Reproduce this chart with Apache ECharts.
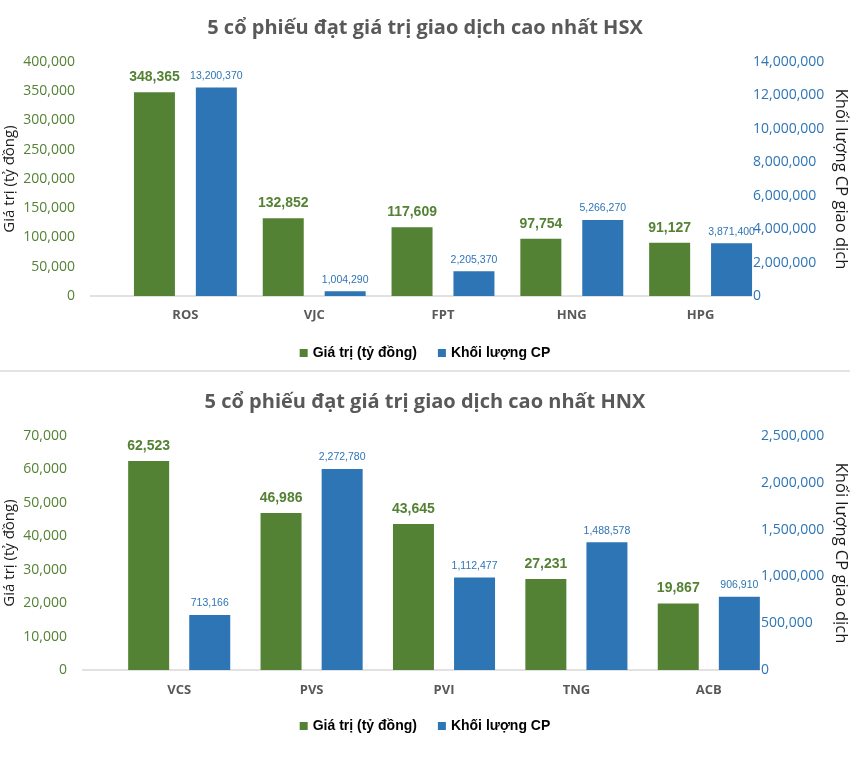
<!DOCTYPE html>
<html>
<head>
<meta charset="utf-8">
<script src="https://cdn.jsdelivr.net/npm/echarts@6/dist/echarts.min.js"></script>
<style>
html,body{margin:0;padding:0;background:#fff;}
#chart{width:850px;height:772px;}
</style>
</head>
<body>
<div id="chart"></div>
<script>
// ---- Data ----
const hsxCategories = ['ROS', 'VJC', 'FPT', 'HNG', 'HPG'];
const hsxValue = [348365, 132852, 117609, 97754, 91127];
const hsxVolume = [13200370, 1004290, 2205370, 5266270, 3871400];

const hnxCategories = ['VCS', 'PVS', 'PVI', 'TNG', 'ACB'];
const hnxValue = [62523, 46986, 43645, 27231, 19867];
const hnxVolume = [713166, 2272780, 1112477, 1488578, 906910];

// right-axis tick labels as printed in the picture
const hsxVolumeTicks = [0, 2000000, 4000000, 6000000, 8000000, 10000000, 12000000, 14000000];
const hnxVolumeTicks = [0, 500000, 1000000, 1500000, 2000000, 2500000];
// the blue bars sit lower than the printed right-axis ticks by this amount
const hsxVolumeShift = 720000;
const hnxVolumeShift = 125000;

const titleHSX = '5 cổ phiếu đạt giá trị giao dịch cao nhất HSX';
const titleHNX = '5 cổ phiếu đạt giá trị giao dịch cao nhất HNX';
const nameValue = 'Giá trị (tỷ đồng)';
const nameVolume = 'Khối lượng CP';
const leftAxisName = 'Giá trị (tỷ đồng)';
const rightAxisName = 'Khối lượng CP giao dịch';

// ---- Style ----
const GREEN = '#548235';
const BLUE = '#2E75B6';
const GRAY = '#595959';
const fmt = v => Math.round(v).toLocaleString('en-US');
const AXFONT = "'Open Sans', sans-serif";
const LFONT = "'Liberation Sans', Arial, sans-serif";

// layout
const P1 = {top: 62, height: 234, left: 121, width: 644, axisL: 90, axisR: 752};
const P2 = {top: 436, height: 234, left: 113, width: 662, axisL: 82, axisR: 760};

function leftAxis(gridIndex, max, interval, P, nameGap) {
  return {
    type: 'value', gridIndex, min: 0, max, interval, position: 'left',
    offset: P.left - P.axisL,
    axisLine: {show: false}, axisTick: {show: false}, splitLine: {show: false},
    axisLabel: {color: GREEN, fontFamily: AXFONT, fontSize: 14, margin: 15, formatter: fmt},
    name: leftAxisName, nameLocation: 'middle', nameGap, nameMoveOverlap: false,
    nameTextStyle: {color: '#1a1a1a', fontFamily: AXFONT, fontSize: 15}
  };
}
function rightAxis(gridIndex, ticks, shift, P, nameGap) {
  const interval = ticks[1] - ticks[0];
  return {
    type: 'value', gridIndex, position: 'right',
    min: ticks[0] + shift, max: ticks[ticks.length - 1] + shift, interval,
    offset: (P.axisR) - (P.left + P.width),
    axisLine: {show: false}, axisTick: {show: false}, splitLine: {show: false},
    axisLabel: {color: BLUE, fontFamily: AXFONT, fontSize: 14, margin: 1, formatter: v => fmt(v - shift)},
    name: rightAxisName, nameLocation: 'middle', nameGap, nameRotate: -90, nameMoveOverlap: false,
    nameTextStyle: {color: '#1a1a1a', fontFamily: AXFONT, fontSize: 16.5}
  };
}
function catAxis(gridIndex, data, margin) {
  return {
    type: 'category', gridIndex, data,
    axisLine: {show: false}, axisTick: {show: false},
    axisLabel: {color: GRAY, fontFamily: AXFONT, fontWeight: 'bold', fontSize: 13, margin}
  };
}
function greenSeries(xi, yi, data, barGap) {
  return {
    name: nameValue, type: 'bar', xAxisIndex: xi, yAxisIndex: yi, data,
    barWidth: 41, barGap, itemStyle: {color: GREEN},
    label: {show: true, position: 'top', distance: 8, color: GREEN, fontFamily: LFONT,
      fontWeight: 'bold', fontSize: 14, formatter: p => fmt(p.value)}
  };
}
function blueSeries(xi, yi, data, barGap) {
  return {
    name: nameVolume, type: 'bar', xAxisIndex: xi, yAxisIndex: yi, data,
    barWidth: 41, barGap, itemStyle: {color: BLUE},
    label: {show: true, position: 'top', distance: 6, color: BLUE, fontFamily: LFONT,
      fontSize: 10.5, formatter: p => fmt(p.value)}
  };
}
function legend(top) {
  return {
    top, left: 'center', itemWidth: 8, itemHeight: 8, itemGap: 21, icon: 'rect',
    data: [nameValue, nameVolume],
    textStyle: {color: '#000', fontFamily: LFONT, fontWeight: 'bold', fontSize: 14}
  };
}

const chart = echarts.init(document.getElementById('chart'), null, {renderer: 'canvas'});
const lineStyle = {stroke: '#D9D9D9', lineWidth: 1.5};
chart.setOption({
  backgroundColor: '#fff',
  animation: false,
  title: [
    {text: titleHSX, left: 'center', top: 13, textStyle: {color: GRAY, fontFamily: AXFONT, fontWeight: 'bold', fontSize: 20}},
    {text: titleHNX, left: 'center', top: 387, textStyle: {color: GRAY, fontFamily: AXFONT, fontWeight: 'bold', fontSize: 20}}
  ],
  legend: [legend(341), legend(714)],
  grid: [
    {top: P1.top, height: P1.height, left: P1.left, width: P1.width, containLabel: false, outerBoundsMode: 'none'},
    {top: P2.top, height: P2.height, left: P2.left, width: P2.width, containLabel: false, outerBoundsMode: 'none'}
  ],
  xAxis: [catAxis(0, hsxCategories, 13), catAxis(1, hnxCategories, 14)],
  yAxis: [
    leftAxis(0, 400000, 50000, P1, 73),
    rightAxis(0, hsxVolumeTicks, hsxVolumeShift, P1, 80),
    leftAxis(1, 70000, 10000, P2, 65),
    rightAxis(1, hnxVolumeTicks, hnxVolumeShift, P2, 72)
  ],
  series: [
    greenSeries(0, 0, hsxValue, '51%'),
    blueSeries(0, 1, hsxVolume, '51%'),
    greenSeries(1, 2, hnxValue, '49%'),
    blueSeries(1, 3, hnxVolume, '49%')
  ],
  graphic: [
    {type: 'line', z: 0, shape: {x1: P1.axisL, y1: P1.top + P1.height, x2: P1.axisR, y2: P1.top + P1.height}, style: lineStyle},
    {type: 'line', z: 0, shape: {x1: P2.axisL, y1: P2.top + P2.height, x2: P2.axisR, y2: P2.top + P2.height}, style: lineStyle},
    {type: 'line', z: 0, shape: {x1: 0, y1: 371, x2: 850, y2: 371}, style: {stroke: '#E3E3E3', lineWidth: 2}}
  ]
});
</script>
</body>
</html>
